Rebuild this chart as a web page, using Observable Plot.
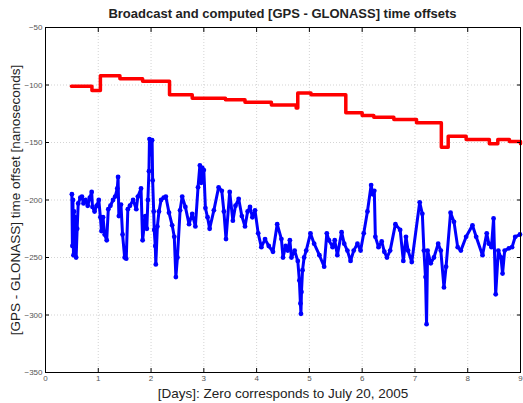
<!DOCTYPE html>
<html>
<head>
<meta charset="utf-8">
<script src="https://cdn.jsdelivr.net/npm/d3@7"></script>
<script src="https://cdn.jsdelivr.net/npm/@observablehq/plot@0.6"></script>
<style>
  html, body { margin: 0; padding: 0; background: #fff; }
  #title { font: bold 13px "Liberation Sans", Arial, sans-serif; height: 22px; line-height: 27px;
           padding-left: 45px; width: 475px; text-align: center; color: #222; white-space: nowrap; }
  svg { display: block; }
</style>
</head>
<body>
<div id="title">Broadcast and computed [GPS - GLONASS] time offsets</div>
<div id="chart"></div>
<script>
const titleText = "Broadcast and computed [GPS - GLONASS] time offsets";
const xLabel = "[Days]: Zero corresponds to July 20, 2005";
const yLabel = "[GPS - GLONASS] time offset [nanoseconds]";
const xTicks = [0, 1, 2, 3, 4, 5, 6, 7, 8, 9];
const yTicks = [-350, -300, -250, -200, -150, -100, -50];

// Broadcast offset (red, step-wise)
const redDay = [0.49, 0.88, 1.04, 1.41, 1.84, 2.35, 2.78, 3.41, 3.78, 4.28, 4.75, 4.78, 5.03, 5.69, 6.0, 6.22, 6.6, 7.03, 7.5, 7.63, 7.97, 8.41, 8.57, 8.79, 9.0];
const redVal = [-101, -104.8, -92, -94.6, -96.7, -108.5, -111.5, -112.9, -115, -117.3, -120, -107, -108.5, -124.2, -126.5, -128, -130, -132.9, -154.1, -144.5, -147.4, -151.1, -147.4, -149.1, -151];

// Computed offset (blue)
const blueDay = [0.50,0.51,0.52,0.53,0.54,0.55,0.56,0.58,0.60,0.62,0.66,0.69,0.72,0.76,0.80,0.84,0.875,0.89,0.93,0.97,1.01,1.04,1.06,1.09,1.12,1.16,1.19,1.23,1.28,1.32,1.36,1.375,1.39,1.43,1.46,1.50,1.53,1.56,1.60,1.66,1.72,1.75,1.81,1.84,1.89,1.92,1.94,1.96,1.97,1.99,2.02,2.03,2.05,2.06,2.08,2.09,2.12,2.15,2.19,2.24,2.28,2.34,2.40,2.44,2.47,2.50,2.55,2.59,2.65,2.72,2.78,2.84,2.89,2.925,2.95,2.97,3.00,3.03,3.07,3.11,3.19,3.28,3.34,3.38,3.42,3.49,3.55,3.60,3.66,3.72,3.78,3.83,3.875,3.92,3.97,4.03,4.09,4.16,4.23,4.31,4.39,4.47,4.50,4.55,4.59,4.63,4.66,4.72,4.78,4.81,4.83,4.84,4.85,4.87,4.90,4.94,5.02,5.09,5.19,5.28,5.33,5.37,5.44,5.48,5.53,5.61,5.66,5.72,5.78,5.84,5.91,5.97,6.03,6.10,6.17,6.20,6.23,6.25,6.31,6.37,6.42,6.47,6.53,6.63,6.72,6.78,6.83,6.87,6.94,7.09,7.14,7.17,7.20,7.22,7.24,7.30,7.36,7.44,7.49,7.55,7.59,7.675,7.74,7.81,7.87,7.97,8.09,8.16,8.28,8.36,8.40,8.45,8.49,8.53,8.58,8.63,8.66,8.70,8.78,8.84,8.90,8.99];
const blueVal = [-195,-240,-200,-248,-210,-245,-215,-250,-225,-203,-198,-197,-203,-200,-205,-198,-193,-206,-210,-205,-200,-215,-227,-215,-230,-235,-208,-205,-200,-197,-190,-180,-214,-204,-230,-250,-251,-208,-205,-200,-208,-197,-190,-235,-214,-225,-200,-175,-147,-160,-148,-183,-210,-226,-240,-256,-223,-210,-200,-198,-197,-211,-222,-232,-267,-250,-209,-197,-206,-221,-212,-223,-189,-170,-185,-172,-174,-207,-215,-225,-209,-189,-192,-210,-234,-193,-218,-205,-199,-214,-223,-210,-206,-215,-209,-229,-241,-234,-240,-245,-221,-234,-250,-240,-244,-235,-250,-244,-253,-270,-290,-299,-280,-261,-250,-244,-229,-238,-248,-258,-229,-235,-241,-235,-248,-228,-238,-244,-253,-244,-238,-244,-229,-210,-187,-195,-192,-232,-241,-236,-245,-250,-244,-221,-226,-253,-232,-244,-254,-202,-212,-244,-267,-308,-244,-255,-250,-238,-244,-276,-258,-211,-219,-241,-244,-232,-222,-232,-248,-229,-238,-241,-216,-282,-244,-250,-264,-244,-242,-241,-232,-230];

const red = redDay.map((d, i) => ({day: d, value: redVal[i]}));
const blue = blueDay.map((d, i) => ({day: d, value: blueVal[i]}));

const font = "'Liberation Sans', Arial, sans-serif";
const chart = Plot.plot({
  width: 523,
  height: 381,
  marginTop: 5,
  marginLeft: 45,
  marginRight: 3,
  marginBottom: 31,
  style: {fontFamily: font, background: "#fff", overflow: "visible"},
  x: {domain: [0, 9]},
  y: {domain: [-350, -50]},
  marks: [
    Plot.gridX(xTicks, {stroke: "#aaa", strokeOpacity: 0.5, strokeDasharray: "1,2"}),
    Plot.gridY(yTicks, {stroke: "#aaa", strokeOpacity: 0.5, strokeDasharray: "1,2"}),
    Plot.line(red, {x: "day", y: "value", curve: "step-after", stroke: "#ff0000", strokeWidth: 3.5, strokeLinejoin: "round"}),
    Plot.line(blue, {x: "day", y: "value", stroke: "#0000ff", strokeWidth: 3, strokeLinejoin: "round"}),
    Plot.dot(blue, {x: "day", y: "value", fill: "#0000ff", r: 2.4}),
    Plot.frame({stroke: "#000", strokeWidth: 1}),
    Plot.axisX(xTicks, {anchor: "bottom", tickSize: -4, tickPadding: 7, fontSize: 8, fill: "#555",
      label: xLabel, labelAnchor: "center", labelArrow: "none", labelOffset: 25}),
    Plot.axisX(xTicks, {anchor: "top", tickSize: -4, tickFormat: () => "", label: null}),
    Plot.axisY(yTicks, {anchor: "left", tickSize: -4, tickPadding: 7, fontSize: 8, fill: "#555",
      label: yLabel, labelAnchor: "center", labelArrow: "none", labelOffset: 35}),
    Plot.axisY(yTicks, {anchor: "right", tickSize: -4, tickFormat: () => "", label: null})
  ]
});
chart.querySelectorAll("g[aria-label$='axis label'] text").forEach(t => {
  t.setAttribute("font-size", "13.5");
  t.style.fill = "#222";
});
document.getElementById("chart").appendChild(chart);
</script>
</body>
</html>
